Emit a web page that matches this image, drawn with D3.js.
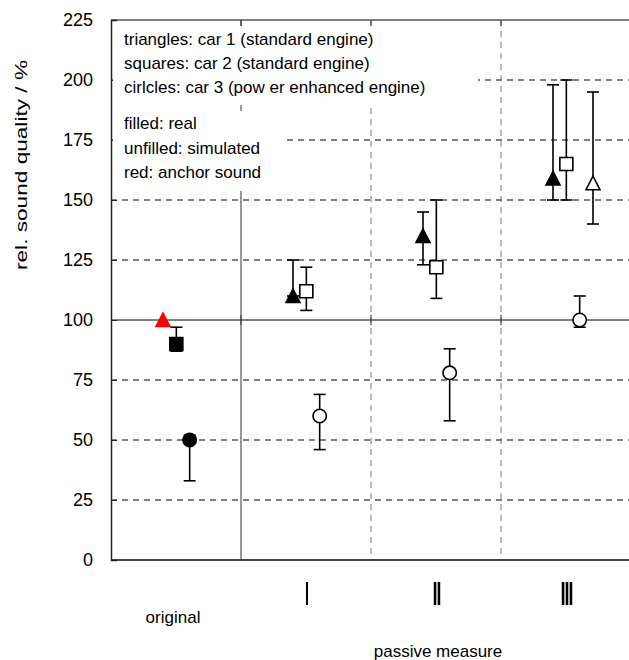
<!DOCTYPE html>
<html>
<head>
<meta charset="utf-8">
<script src="https://cdn.jsdelivr.net/npm/d3@7"></script>
<style>
    body { margin: 0; background: #fff; }
    svg { display: block; font-family: "Liberation Sans", Arial, sans-serif; }
</style>
</head>
<body>
<div id="chart"></div>
<script>
const groups = ['original', 'I', 'II', 'III'];
const groupLabels = ['', 'Ⅰ', 'Ⅱ', 'Ⅲ'];
const yTicks = [0, 25, 50, 75, 100, 125, 150, 175, 200, 225];

// car 1 (triangles), first point is the red anchor sound
const car1Values = [100, 110, 135, 159];
const car1High = [null, 125, 145, 198];
const car1Low = [null, 110, 123, 150];
const car1Colors = ['#ff0000', '#000', '#000', '#000'];

// car 2 (squares)
const car2Values = [90, 112, 122, 165];
const car2High = [97, 122, 150, 200];
const car2Low = [87, 104, 109, 150];
const car2Filled = [true, false, false, false];

// car 3 (circles)
const car3Values = [50, 60, 78, 100];
const car3High = [52, 69, 88, 110];
const car3Low = [33, 46, 58, 97];
const car3Filled = [true, false, false, false];

// car 1 simulated (open triangle)
const car1SimValues = [null, null, null, 157];
const car1SimHigh = [null, null, null, 195];
const car1SimLow = [null, null, null, 140];

const legendTop = [
    'triangles: car 1 (standard engine)',
    'squares: car 2 (standard engine)',
    'cirlcles: car 3 (pow er enhanced engine)'
];
const legendBottom = ['filled: real', 'unfilled: simulated', 'red: anchor sound'];

const W = 629, H = 660;
const plot = { left: 111, right: 631, top: 20, bottom: 560 };

const svg = d3.select('#chart').append('svg')
    .attr('width', W)
    .attr('height', H);

// identity filter: renders the squeezed numerals without colour fringes
svg.append('defs').append('filter')
    .attr('id', 'flat')
    .append('feOffset').attr('dx', 0).attr('dy', 0);

const x = d3.scaleBand()
    .domain(groups)
    .range([plot.left, plot.right])
    .padding(0);

const y = d3.scaleLinear()
    .domain([0, 225])
    .range([plot.bottom, plot.top]);

const offset = d3.scalePoint()
    .domain(['car1', 'car2', 'car3', 'car1sim'])
    .range([-13, 27]);

// build one row per marker
function rows(key, values, high, low, shape, fill, stroke) {
    return values.map((v, i) => ({
        key, group: groups[i], value: v, high: high[i], low: low[i], shape,
        fill: fill(i), stroke: stroke(i)
    })).filter(d => d.value !== null);
}

const points = [].concat(
    rows('car1', car1Values, car1High, car1Low, 'triangle', i => car1Colors[i], i => car1Colors[i]),
    rows('car2', car2Values, car2High, car2Low, 'square', i => car2Filled[i] ? '#000' : '#fff', () => '#000'),
    rows('car3', car3Values, car3High, car3Low, 'circle', i => car3Filled[i] ? '#000' : '#fff', () => '#000'),
    rows('car1sim', car1SimValues, car1SimHigh, car1SimLow, 'triangle', () => '#fff', () => '#000')
);

const px = d => x(d.group) + x.bandwidth() / 2 + offset(d.key);

// horizontal grid
svg.append('g')
    .selectAll('line')
    .data(yTicks.filter(t => t > 0))
    .enter().append('line')
    .attr('x1', plot.left)
    .attr('x2', plot.right)
    .attr('y1', d => y(d))
    .attr('y2', d => y(d))
    .attr('stroke', d => d === 225 ? '#555' : '#000')
    .attr('stroke-width', d => d === 225 ? 1.5 : 1)
    .attr('stroke-dasharray', d => (d === 100 || d === 225) ? null : '6,5');

// vertical group separators
const bounds = groups.slice(1).map(g => x(g));
svg.append('g')
    .selectAll('line')
    .data(bounds)
    .enter().append('line')
    .attr('x1', d => d)
    .attr('x2', d => d)
    .attr('y1', plot.top)
    .attr('y2', plot.bottom)
    .attr('stroke', (d, i) => i === 0 ? '#333' : '#777')
    .attr('stroke-width', 1)
    .attr('stroke-dasharray', (d, i) => i === 0 ? null : '6,5');

// small cross ticks where the category axis sits (100)
svg.append('g')
    .selectAll('line')
    .data(bounds)
    .enter().append('line')
    .attr('x1', d => d)
    .attr('x2', d => d)
    .attr('y1', y(100) - 5)
    .attr('y2', y(100) + 5)
    .attr('stroke', '#333');

// bottom line
svg.append('line')
    .attr('x1', plot.left)
    .attr('x2', plot.right)
    .attr('y1', y(0))
    .attr('y2', y(0))
    .attr('stroke', '#444')
    .attr('stroke-width', 2);

// y axis with inward ticks
const yAxis = svg.append('g')
    .attr('transform', `translate(${plot.left},0)`)
    .call(d3.axisLeft(y).tickValues(yTicks).tickSize(-6).tickPadding(18));
yAxis.select('.domain').attr('stroke', '#222').attr('stroke-width', 1.5);
yAxis.selectAll('.tick line').attr('stroke', '#222');
yAxis.selectAll('text')
    .style('font-size', '18px')
    .style('font-family', '"Liberation Sans", Arial, sans-serif')
    .attr('fill', '#000');

// top ticks
svg.append('g')
    .selectAll('line')
    .data(bounds)
    .enter().append('line')
    .attr('x1', d => d)
    .attr('x2', d => d)
    .attr('y1', plot.top)
    .attr('y2', plot.top + 6)
    .attr('stroke', '#333');

// legend text blocks with white backgrounds
svg.append('rect')
    .attr('x', plot.left + 2).attr('y', 26)
    .attr('width', 365).attr('height', 79)
    .attr('fill', '#fff');
svg.append('rect')
    .attr('x', plot.left + 2).attr('y', 111)
    .attr('width', 172).attr('height', 80)
    .attr('fill', '#fff');

svg.append('g')
    .selectAll('text')
    .data(legendTop)
    .enter().append('text')
    .attr('x', 124)
    .attr('y', (d, i) => 45 + i * 24)
    .style('font-size', '17px')
    .text(d => d);

svg.append('g')
    .selectAll('text')
    .data(legendBottom)
    .enter().append('text')
    .attr('x', 124)
    .attr('y', (d, i) => 129 + i * 24.5)
    .style('font-size', '17px')
    .text(d => d);

// error bars
const err = svg.append('g')
    .attr('stroke', '#000')
    .attr('stroke-width', 1.6)
    .selectAll('g')
    .data(points.filter(d => d.high !== null))
    .enter().append('g');

err.append('line')
    .attr('x1', px).attr('x2', px)
    .attr('y1', d => y(d.high))
    .attr('y2', d => y(d.low));
err.append('line')
    .attr('x1', d => px(d) - 6).attr('x2', d => px(d) + 6)
    .attr('y1', d => y(d.high)).attr('y2', d => y(d.high));
err.append('line')
    .attr('x1', d => px(d) - 6).attr('x2', d => px(d) + 6)
    .attr('y1', d => y(d.low)).attr('y2', d => y(d.low));

// markers
const shapes = {
    triangle: 'M0,-7L7,6.5L-7,6.5Z',
    square: 'M-6.5,-6.5H6.5V6.5H-6.5Z',
    circle: d3.symbol().type(d3.symbolCircle).size(Math.PI * 6.7 * 6.7)()
};

svg.append('g')
    .selectAll('path')
    .data(points)
    .enter().append('path')
    .attr('transform', d => `translate(${px(d)},${y(d.value)})`)
    .attr('d', d => shapes[d.shape])
    .attr('fill', d => d.fill)
    .attr('stroke', d => d.stroke)
    .attr('stroke-width', 1.6);

// roman numeral group labels (tall and narrow, as in the original)
svg.append('g')
    .attr('filter', 'url(#flat)')
    .selectAll('text')
    .data(groups.slice(1))
    .enter().append('text')
    .attr('transform', d => `translate(${x(d) + x.bandwidth() / 2 + 1},605) scale(0.5,1)`)
    .attr('text-anchor', 'middle')
    .attr('textLength', (d, i) => [8, 18, 26][i])
    .attr('lengthAdjust', 'spacingAndGlyphs')
    .attr('fill', '#000')
    .style('font-family', '"DejaVu Sans", sans-serif')
    .style('font-weight', 'bold')
    .style('font-size', '32px')
    .text((d, i) => groupLabels[i + 1]);

svg.append('text')
    .attr('x', x('original') + x.bandwidth() / 2 - 3)
    .attr('y', 623)
    .attr('text-anchor', 'middle')
    .style('font-size', '17px')
    .text('original');

svg.append('text')
    .attr('x', 438)
    .attr('y', 657)
    .attr('text-anchor', 'middle')
    .style('font-size', '17px')
    .text('passive measure');

svg.append('text')
    .attr('transform', 'translate(27,165) rotate(-90)')
    .attr('text-anchor', 'middle')
    .attr('textLength', 210)
    .attr('lengthAdjust', 'spacingAndGlyphs')
    .style('font-size', '17px')
    .text('rel. sound quality / %');
</script>
</body>
</html>
